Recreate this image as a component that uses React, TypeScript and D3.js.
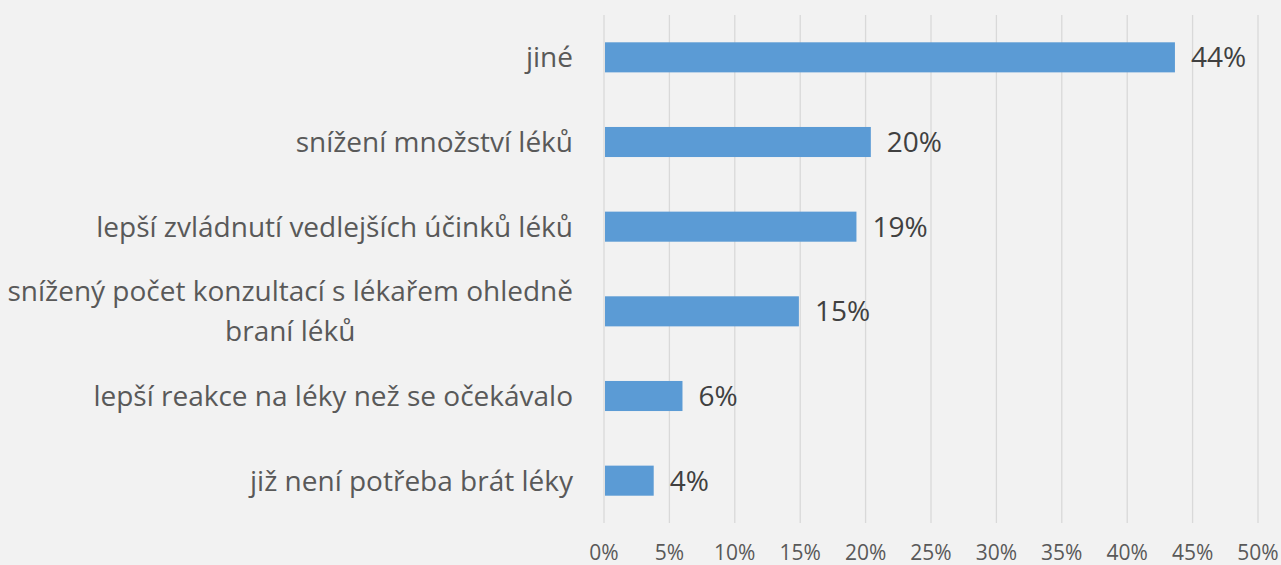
import React, { useEffect, useRef } from 'react';
import * as d3 from 'd3';

const categories = [
  ['jiné'],
  ['snížení množství léků'],
  ['lepší zvládnutí vedlejších účinků léků'],
  ['snížený počet konzultací s lékařem ohledně', 'braní léků'],
  ['lepší reakce na léky než se očekávalo'],
  ['již není potřeba brát léky'],
];
const values = [0.4365, 0.204, 0.193, 0.149, 0.06, 0.038];
const valueLabels = ['44%', '20%', '19%', '15%', '6%', '4%'];
const ticks = [0, 0.05, 0.1, 0.15, 0.2, 0.25, 0.3, 0.35, 0.4, 0.45, 0.5];

const W = 1281;
const H = 565;
const FONT = '"Open Sans", sans-serif';
const CAT_SIZE = 28;

export default function App() {
  const ref = useRef<SVGSVGElement>(null);

  useEffect(() => {
    document.body.style.margin = '0';
    document.body.style.background = '#f2f2f2';

    const svg = d3.select(ref.current);
    svg.selectAll('*').remove();

    const x = d3.scaleLinear().domain([0, 0.5]).range([604, 1258]);
    const y = d3.scaleBand<number>()
      .domain(d3.range(categories.length))
      .range([15, 523])
      .paddingInner(0.645)
      .paddingOuter(0.3225);

    svg.append('rect').attr('width', W).attr('height', H).attr('fill', '#f2f2f2');

    // gridlines
    svg.append('g')
      .selectAll('line')
      .data(ticks)
      .join('line')
      .attr('x1', d => x(d)).attr('x2', d => x(d))
      .attr('y1', 15).attr('y2', 523)
      .attr('stroke', '#d9d9d9')
      .attr('stroke-width', 1.3);

    // tick labels
    svg.append('g')
      .selectAll('text')
      .data(ticks)
      .join('text')
      .attr('x', d => x(d))
      .attr('y', 560)
      .attr('text-anchor', 'middle')
      .attr('fill', '#595959')
      .style('font', `21px ${FONT}`)
      .text(d => `${Math.round(d * 100)}%`);

    // bars
    svg.append('g')
      .selectAll('rect')
      .data(values)
      .join('rect')
      .attr('x', x(0) + 1)
      .attr('y', (d, i) => y(i)!)
      .attr('width', d => x(d) - x(0) - 1)
      .attr('height', y.bandwidth())
      .attr('fill', '#5b9bd5');

    // value labels
    svg.append('g')
      .selectAll('text')
      .data(values)
      .join('text')
      .attr('x', d => x(d) + 16)
      .attr('y', (d, i) => y(i)! + y.bandwidth() / 2)
      .attr('dy', '0.36em')
      .attr('fill', '#404040')
      .style('font', `28px ${FONT}`)
      .text((d, i) => valueLabels[i]);

    // category labels, multi-line ones centred as a block
    const cat = svg.append('g')
      .selectAll('text')
      .data(categories)
      .join('text')
      .attr('fill', '#595959')
      .style('font', `${CAT_SIZE}px ${FONT}`)
      .attr('text-anchor', 'middle');

    cat.each(function (lines, i) {
      const t = d3.select(this);
      const cy = y(i)! + y.bandwidth() / 2;
      const lh = 40;
      const w = Math.max(...lines.map(s => {
        const tmp = svg.append('text').style('font', `${CAT_SIZE}px ${FONT}`).text(s);
        const len = (tmp.node() as SVGTextElement).getComputedTextLength();
        tmp.remove();
        return len;
      }));
      const cx = 573 - w / 2;
      lines.forEach((s, j) => {
        t.append('tspan')
          .attr('x', cx)
          .attr('y', cy + (j - (lines.length - 1) / 2) * lh)
          .attr('dy', '0.36em')
          .text(s);
      });
    });
  }, []);

  return <svg ref={ref} width={W} height={H} style={{ display: 'block' }} />;
}
